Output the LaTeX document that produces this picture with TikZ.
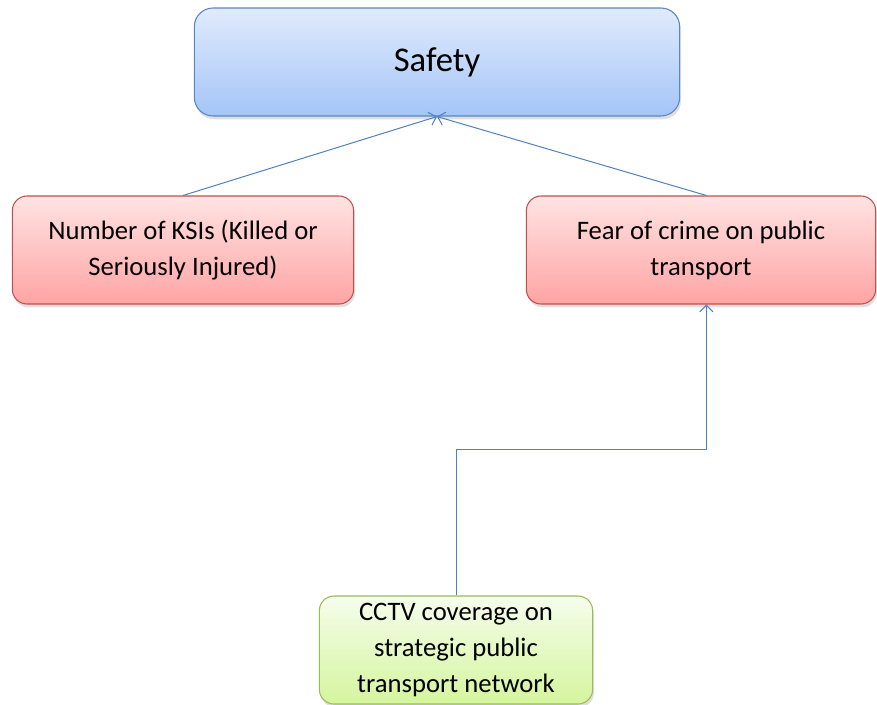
\documentclass[tikz,border=0pt]{standalone}
\usepackage{fontspec}
\setmainfont{Carlito}
\usetikzlibrary{shadows,arrows.meta}

\definecolor{linkblue}{HTML}{4F81BD}
\definecolor{goaltop}{HTML}{E0EBFD}
\definecolor{goalbot}{HTML}{A5C4F7}
\definecolor{goalline}{HTML}{5A87C2}
\definecolor{measuretop}{HTML}{FFE3E3}
\definecolor{measurebot}{HTML}{FFA4A4}
\definecolor{measureline}{HTML}{C0504D}
\definecolor{actiontop}{HTML}{F5FDEC}
\definecolor{actionbot}{HTML}{D5F59E}
\definecolor{actionline}{HTML}{9BBB59}

\tikzset{
  box/.style={rounded corners=11pt, line width=0.8pt, align=center,
    font=\fontsize{20}{27}\selectfont,
    drop shadow={opacity=0.25, shadow xshift=1pt, shadow yshift=-2.5pt}},
  goalbox/.style={box, draw=goalline, top color=goaltop, bottom color=goalbot,
    minimum width=364pt, minimum height=81pt, rounded corners=14pt,
    font=\fontsize{26}{31}\selectfont},
  measurebox/.style={box, draw=measureline, top color=measuretop, bottom color=measurebot,
    minimum height=81pt},
  actionbox/.style={box, draw=actionline, top color=actiontop, bottom color=actionbot,
    minimum width=205pt, minimum height=81pt, inner sep=1pt},
  link/.style={draw=linkblue, line width=0.75pt, -{Straight Barb[length=5pt,width=10pt]}}
}

\begin{document}
\begin{tikzpicture}[x=0.75pt,y=-0.75pt]
      \useasboundingbox (0,0) rectangle (877,704);

      \node[goalbox]                      (S) at (437,62)  {Safety};
      \node[measurebox, minimum width=256pt] (K) at (183,250) {Number of KSIs (Killed or\\Seriously Injured)};
      \node[measurebox, minimum width=262pt] (F) at (701,250) {Fear of crime on public\\transport};
      \node[actionbox]                    (C) at (456,650) {CCTV coverage on\\strategic public\\transport network};

      \coordinate (bend) at (580,449);

      \path (K.north)        edge[link] (S.south);
      \path ([xshift=4pt]F.north) edge[link] (S.south);
      \draw[link] (C.north) |- (bend) -| ([xshift=4pt]F.south);
    \end{tikzpicture}
\end{document}
